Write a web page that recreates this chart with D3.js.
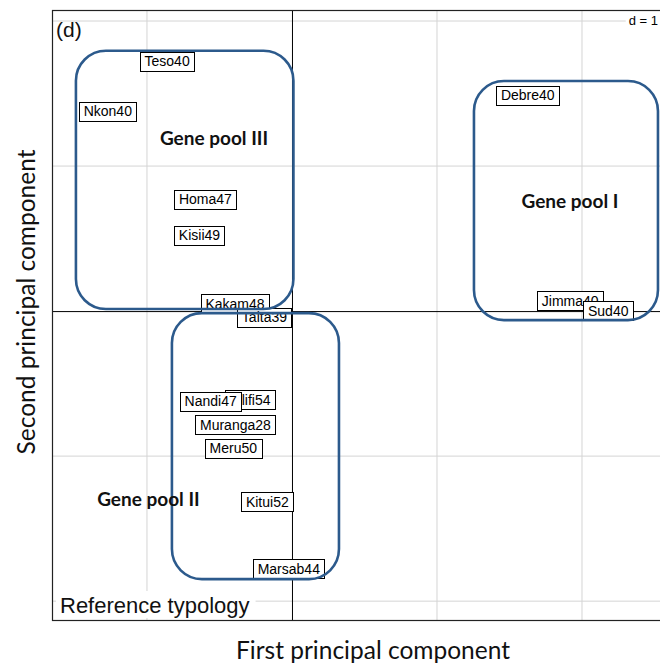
<!DOCTYPE html>
<html>
<head>
<meta charset="utf-8">
<script src="https://cdn.jsdelivr.net/npm/d3@7"></script>
<style>
  body { margin: 0; background: #fff; }
  svg { display: block; }
</style>
</head>
<body>
<svg id="chart" width="660" height="666"></svg>
<script>
// population labels and their coordinates on the first two components
const pops = ['Teso40', 'Nkon40', 'Homa47', 'Kisii49', 'Kakam48', 'Taita39', 'Debre40', 'Jimma40', 'Sud40',
  'Kilifi54', 'Nandi47', 'Muranga28', 'Meru50', 'Kitui52', 'Marsab44']
const pc1 = [-0.861, -1.270, -0.597, -0.638, -0.393, -0.190, 1.626, 1.919, 2.181, -0.290, -0.561, -0.390, -0.405, -0.170, -0.022]
const pc2 = [1.721, 1.377, 0.770, 0.523, 0.052, -0.043, 1.488, 0.070, 0.001, -0.612, -0.621, -0.784, -0.945, -1.315, -1.777]

// gene pool groupings (boxes drawn around the populations)
const pools = ['Gene pool III', 'Gene pool I', 'Gene pool II']
const poolX = [[-1.490, 0.010], [1.255, 2.524], [-0.828, 0.324]]
const poolY = [[0.014, 1.795], [-0.062, 1.586], [-1.848, -0.014]]
const poolLabelAt = [[-0.538, 1.186], [1.917, 0.752], [-0.990, -1.303]]

const gridX = [-1, 1, 2]
const gridY = [-2, -1, 1, 2]

const svg = d3.select('#chart')
const x = d3.scaleLinear().domain([-1.655, 2.538]).range([52, 660])
const y = d3.scaleLinear().domain([-2.13, 2.076]).range([620, 10])

// grille
svg.append('g').selectAll('line.gx')
  .data(gridX).enter()
  .append('line')
  .attr('x1', d => x(d)).attr('x2', d => x(d))
  .attr('y1', y(-2.13)).attr('y2', y(2.076))
  .attr('stroke', '#d4d4d4').attr('stroke-width', 1)
svg.append('g').selectAll('line.gy')
  .data(gridY).enter()
  .append('line')
  .attr('x1', x(-1.655)).attr('x2', x(2.538))
  .attr('y1', d => y(d)).attr('y2', d => y(d))
  .attr('stroke', '#d4d4d4').attr('stroke-width', 1)

// axes through the origin
svg.append('line')
  .attr('x1', x(0) + 0.5).attr('x2', x(0) + 0.5)
  .attr('y1', y(-2.13)).attr('y2', y(2.076))
  .attr('stroke', '#000')
svg.append('line')
  .attr('x1', x(-1.655)).attr('x2', x(2.538))
  .attr('y1', y(0) + 0.5).attr('y2', y(0) + 0.5)
  .attr('stroke', '#000')

// frame
svg.append('rect')
  .attr('x', x(-1.655) + 0.5).attr('y', y(2.076) + 0.5)
  .attr('width', x(2.538) - x(-1.655) + 4)
  .attr('height', y(-2.13) - y(2.076))
  .attr('fill', 'none').attr('stroke', '#222').attr('stroke-width', 1.2)

// d = 1 tag
const dTag = svg.append('g')
const dText = dTag.append('text')
  .attr('x', 658).attr('y', 25)
  .attr('text-anchor', 'end')
  .attr('font-family', 'Liberation Sans, Arial, sans-serif')
  .attr('font-size', 13)
  .text('d = 1')
const db = dText.node().getBBox()
dTag.insert('rect', 'text')
  .attr('x', db.x - 3).attr('y', db.y).attr('width', db.width + 6).attr('height', db.height)
  .attr('fill', '#fff')

// reference typology tag
const refTag = svg.append('g')
const refText = refTag.append('text')
  .attr('x', 60).attr('y', 613)
  .attr('font-family', 'Liberation Sans, Arial, sans-serif')
  .attr('font-size', 22)
  .attr('fill', '#111')
  .text('Reference typology')
const rb = refText.node().getBBox()
refTag.insert('rect', 'text')
  .attr('x', rb.x - 4).attr('y', rb.y - 2).attr('width', rb.width + 10).attr('height', rb.height + 2)
  .attr('fill', '#fff')

// population labels
const lab = svg.append('g').selectAll('g.lab')
  .data(pops).enter()
  .append('g')
  .attr('class', 'lab')
lab.append('text')
  .attr('x', (d, i) => x(pc1[i]))
  .attr('y', (d, i) => y(pc2[i]) + 5)
  .attr('text-anchor', 'middle')
  .attr('font-family', 'Liberation Sans, Arial, sans-serif')
  .attr('font-size', 14)
  .attr('fill', '#000')
  .text(d => d)
lab.each(function (d, i) {
  const g = d3.select(this)
  const b = g.select('text').node().getBBox()
  const w = Math.round(b.width + 9)
  const h = 19
  g.insert('rect', 'text')
    .attr('x', Math.round(x(pc1[i]) - w / 2) + 0.5)
    .attr('y', Math.round(y(pc2[i]) - h / 2) + 0.5)
    .attr('width', w)
    .attr('height', h)
    .attr('fill', '#fff')
    .attr('stroke', '#000')
    .attr('stroke-width', 1)
})

// gene pool boxes
svg.append('g').selectAll('rect')
  .data(pools).enter()
  .append('rect')
  .attr('x', (d, i) => x(poolX[i][0]))
  .attr('y', (d, i) => y(poolY[i][1]))
  .attr('width', (d, i) => x(poolX[i][1]) - x(poolX[i][0]))
  .attr('height', (d, i) => y(poolY[i][0]) - y(poolY[i][1]))
  .attr('rx', 30).attr('ry', 30)
  .attr('fill', 'none')
  .attr('stroke', '#2c5a8c')
  .attr('stroke-width', 2.6)

svg.append('g').selectAll('text')
  .data(pools).enter()
  .append('text')
  .attr('x', (d, i) => x(poolLabelAt[i][0]))
  .attr('y', (d, i) => y(poolLabelAt[i][1]) + 6)
  .attr('text-anchor', 'middle')
  .attr('font-family', 'Lato, Open Sans, sans-serif')
  .attr('font-weight', 'bold')
  .attr('font-size', 19)
  .attr('fill', '#111')
  .text(d => d)

// panel letter
svg.append('text')
  .attr('x', 56).attr('y', 37)
  .attr('font-family', 'Liberation Sans, Arial, sans-serif')
  .attr('font-size', 21)
  .attr('fill', '#111')
  .text('(d)')

// titres des axes
svg.append('text')
  .attr('x', 373).attr('y', 659)
  .attr('text-anchor', 'middle')
  .attr('font-family', 'Lato, Open Sans, sans-serif')
  .attr('font-size', 24.5)
  .attr('fill', '#111')
  .text('First principal component')
svg.append('text')
  .attr('transform', 'translate(35,302) rotate(-90)')
  .attr('text-anchor', 'middle')
  .attr('font-family', 'Lato, Open Sans, sans-serif')
  .attr('font-size', 24.5)
  .attr('fill', '#111')
  .text('Second principal component')
</script>
</body>
</html>
